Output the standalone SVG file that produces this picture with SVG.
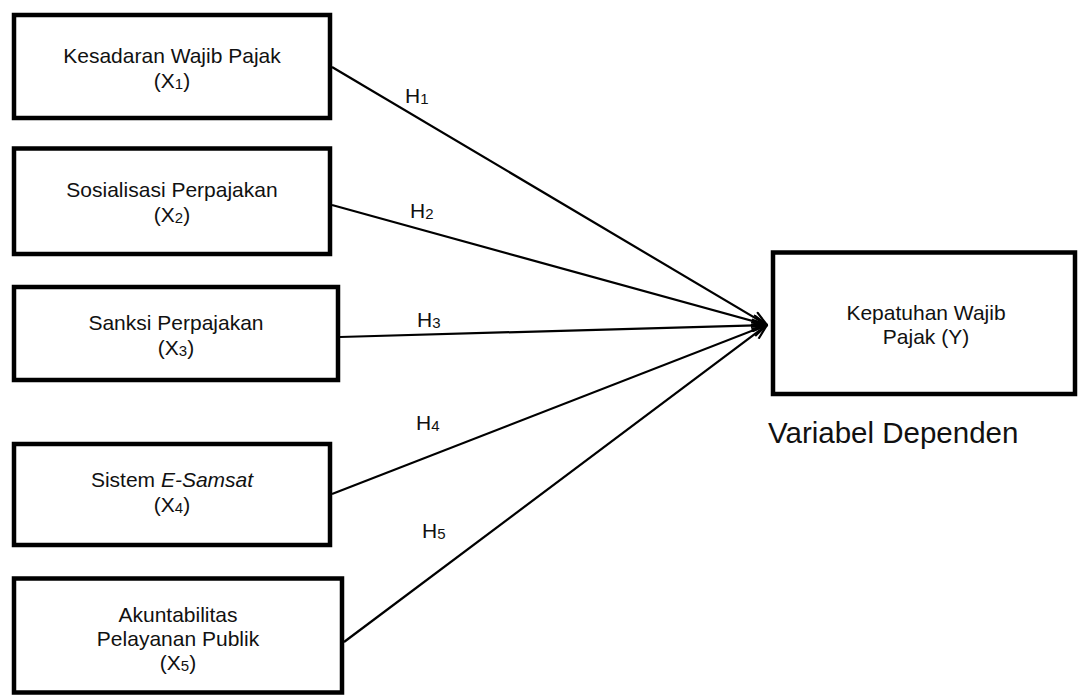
<svg xmlns="http://www.w3.org/2000/svg" width="1078" height="695" viewBox="0 0 1078 695">
<style>
.box{fill:#fff;stroke:#000;stroke-width:4.5}
.t{font-family:"Liberation Sans",Arial,sans-serif;font-size:21px;fill:#111;text-anchor:middle}
.h{font-family:"Liberation Sans",Arial,sans-serif;font-size:21px;fill:#111}
.sub{font-size:15px}
.c{stroke:#000;stroke-width:2.2;fill:none;marker-end:url(#arr)}
</style>
<defs>
<marker id="arr" viewBox="0 0 17 14" refX="16" refY="7" markerWidth="17" markerHeight="14" markerUnits="userSpaceOnUse" orient="auto">
<path d="M1,1 L16,7 L1,13" fill="none" stroke="#000" stroke-width="2.2"/>
</marker>
</defs>
<rect width="1078" height="695" fill="#fff"/>
<g id="connectors">
<line class="c" x1="332" y1="67" x2="767" y2="325"/>
<line class="c" x1="332" y1="205" x2="767" y2="325"/>
<line class="c" x1="340" y1="337" x2="767" y2="325"/>
<line class="c" x1="332" y1="494" x2="767" y2="325"/>
<line class="c" x1="344" y1="642" x2="767" y2="325"/>
<text class="h" x="405" y="103">H<tspan class="sub" dy="1">1</tspan></text>
<text class="h" x="410" y="218">H<tspan class="sub" dy="1">2</tspan></text>
<text class="h" x="417" y="327">H<tspan class="sub" dy="1">3</tspan></text>
<text class="h" x="416" y="430">H<tspan class="sub" dy="1">4</tspan></text>
<text class="h" x="422" y="538">H<tspan class="sub" dy="1">5</tspan></text>
</g>
<g id="x1">
<rect class="box" x="14" y="15" width="316" height="103"/>
<text class="t" x="172" y="63">Kesadaran Wajib Pajak</text>
<text class="t" x="172" y="88">(X<tspan class="sub" dy="1">1</tspan><tspan dy="-1">)</tspan></text>
</g>
<g id="x2">
<rect class="box" x="14" y="148.5" width="316" height="105.5"/>
<text class="t" x="172" y="197">Sosialisasi Perpajakan</text>
<text class="t" x="172" y="222">(X<tspan class="sub" dy="1">2</tspan><tspan dy="-1">)</tspan></text>
</g>
<g id="x3">
<rect class="box" x="14" y="287" width="324" height="93"/>
<text class="t" x="176" y="330">Sanksi Perpajakan</text>
<text class="t" x="176" y="355">(X<tspan class="sub" dy="1">3</tspan><tspan dy="-1">)</tspan></text>
</g>
<g id="x4">
<rect class="box" x="14" y="444" width="316" height="101"/>
<text class="t" x="172" y="487">Sistem <tspan font-style="italic">E-Samsat</tspan></text>
<text class="t" x="172" y="512">(X<tspan class="sub" dy="1">4</tspan><tspan dy="-1">)</tspan></text>
</g>
<g id="x5">
<rect class="box" x="14" y="578.5" width="328" height="114"/>
<text class="t" x="178" y="622">Akuntabilitas</text>
<text class="t" x="178" y="646">Pelayanan Publik</text>
<text class="t" x="178" y="670">(X<tspan class="sub" dy="1">5</tspan><tspan dy="-1">)</tspan></text>
</g>
<g id="y">
<rect class="box" x="773" y="252.5" width="302" height="141.5"/>
<text class="t" x="926" y="320">Kepatuhan Wajib</text>
<text class="t" x="926" y="344">Pajak (Y)</text>
</g>
<g id="label-dependen">
<text class="h" x="768" y="443" style="font-size:29.5px">Variabel Dependen</text>
</g>
</svg>
